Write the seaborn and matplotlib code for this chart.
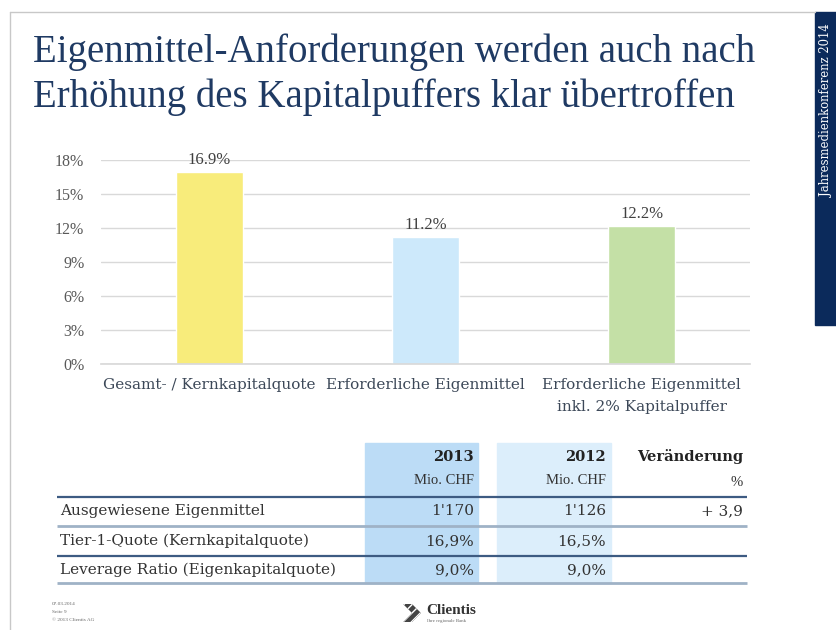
import matplotlib
matplotlib.use("Agg")
import matplotlib.pyplot as plt
import seaborn as sns
import pandas as pd
from matplotlib.patches import Rectangle, Polygon

# Balken
categories = ["Gesamt- / Kernkapitalquote", "Erforderliche Eigenmittel",
              "Erforderliche Eigenmittel\ninkl. 2% Kapitalpuffer"]
values = [16.9, 11.2, 12.2]
bar_colors = ["#F8EC7B", "#CDE9FB", "#C4E0A6"]
y_ticks = [0, 3, 6, 9, 12, 15, 18]

# Tabelle
row_labels = ["Ausgewiesene Eigenmittel", "Tier-1-Quote (Kernkapitalquote)",
              "Leverage Ratio (Eigenkapitalquote)"]
col_2013 = ["1'170", "16,9%", "9,0%"]
col_2012 = ["1'126", "16,5%", "9,0%"]
col_change = ["+ 3,9", "", ""]

title_lines = ["Eigenmittel-Anforderungen werden auch nach",
               "Erhöhung des Kapitalpuffers klar übertroffen"]

sns.set_theme(style="white")
plt.rcParams['font.family'] = ['Liberation Serif', 'DejaVu Serif']
wide = ['DejaVu Serif', 'Liberation Serif']

W, H = 836, 630
fig = plt.figure(figsize=(W / 100, H / 100), dpi=100)
fig.patch.set_facecolor("white")

# Overlay in Pixelkoordinaten fuer Folie und Tabelle
ov = fig.add_axes([0, 0, 1, 1], zorder=0)
ov.set_xlim(0, W)
ov.set_ylim(H, 0)
ov.axis("off")

# Folienrahmen
ov.plot([10, 815], [12, 12], color="#C8C8C8", lw=1)
ov.plot([10, 10], [12, H], color="#C8C8C8", lw=1)
ov.add_patch(Rectangle((815, 12), 21, 313, color="#0B2A5B"))
ov.text(826, 24, "Jahresmedienkonferenz 2014", rotation=90, color="white",
        fontsize=8.4, family=wide, ha="center", va="top")

# Titel
for y, line in zip([62, 107], title_lines):
    ov.text(33, y, line, fontsize=28, color="#1F3A63", ha="left", va="baseline")

# Diagramm
ax = fig.add_axes([101 / W, (H - 364) / H, (750 - 101) / W, (364 - 160) / H], zorder=1)
ax.set_facecolor("none")
df = pd.DataFrame({"cat": categories, "val": values})
sns.barplot(data=df, x="cat", y="val", hue="cat", palette=bar_colors,
            saturation=1, width=0.31, legend=False, ax=ax, zorder=2)
ax.set_ylim(0, 18)
ax.set_xlim(-0.5, 2.5)
ax.set_yticks(y_ticks)
ax.set_yticklabels([f"{t}%" for t in y_ticks])
ax.grid(axis="y", color="#D9D9D9", lw=1, zorder=0)
ax.set_axisbelow(True)
for s in ["top", "right", "left"]:
    ax.spines[s].set_visible(False)
ax.spines["bottom"].set_color("#D9D9D9")
ax.tick_params(axis="y", length=0, labelsize=11.5, labelcolor="#595959", pad=12)
ax.tick_params(axis="x", length=0, labelsize=11, labelcolor="#3C4858", pad=10)
for lbl in ax.get_xticklabels():
    lbl.set_linespacing(1.7)
    lbl.set_family(wide)
ax.set_xlabel("")
ax.set_ylabel("")
for cont in ax.containers:
    ax.bar_label(cont, labels=[f"{v:.1f}%" for v in cont.datavalues],
                 padding=3, fontsize=12, color="#404040", clip_on=False)

# Tabelle
ov.add_patch(Rectangle((365, 443), 113, 140, color="#BCDCF6", zorder=0))
ov.add_patch(Rectangle((497, 443), 114, 140, color="#DCEEFB", zorder=0))

x_2013, x_2012, x_chg, x_lbl = 474, 606, 743, 60
head = dict(fontsize=10.5, weight="bold", ha="right", va="center", color="#222222", family=wide)
ov.text(x_2013, 457, "2013", **head)
ov.text(x_2012, 457, "2012", **head)
ov.text(x_chg, 457, "Veränderung", **head)
sub = dict(fontsize=10.5, ha="right", va="center", color="#333333")
ov.text(x_2013, 480, "Mio. CHF", **sub)
ov.text(x_2012, 480, "Mio. CHF", **sub)
ov.text(x_chg, 482, "%", **sub)

line_y = [497, 526, 556, 583]
line_c = ["#3D5B82", "#9FB2C6", "#3D5B82", "#9FB2C6"]
line_w = [1.6, 2.0, 1.6, 2.0]
for y, c, lw in zip(line_y, line_c, line_w):
    ov.plot([57, 747], [y, y], color=c, lw=lw, solid_capstyle="butt")

cell = dict(fontsize=11, va="center", color="#333333", family=wide)
row_y = [511, 541, 570]
for y, lab, a, b, c in zip(row_y, row_labels, col_2013, col_2012, col_change):
    ov.text(x_lbl, y, lab, ha="left", **cell)
    ov.text(x_2013, y, a, ha="right", **cell)
    ov.text(x_2012, y, b, ha="right", **cell)
    ov.text(x_chg, y, c, ha="right", **cell)

# Fusszeile
ov.text(52, 604, "07.03.2014", fontsize=3.8, color="#666666", va="center")
ov.text(52, 612, "Seite 9", fontsize=3.8, color="#666666", va="center")
ov.text(52, 620, "© 2013 Clientis AG", fontsize=3.8, color="#666666", va="center")

# Logo
ov.add_patch(Polygon([[403, 604], [412, 604], [421, 613], [412, 622], [403, 622], [412, 613]],
                     closed=True, facecolor="#444444", edgecolor="white", hatch="////", lw=0))
ov.text(426, 610, "Clientis", fontsize=11, weight="bold", color="#333333", va="center")
ov.text(427, 621, "Ihre regionale Bank", fontsize=3.5, color="#666666", va="center")

fig.savefig("out.png", dpi=100)
